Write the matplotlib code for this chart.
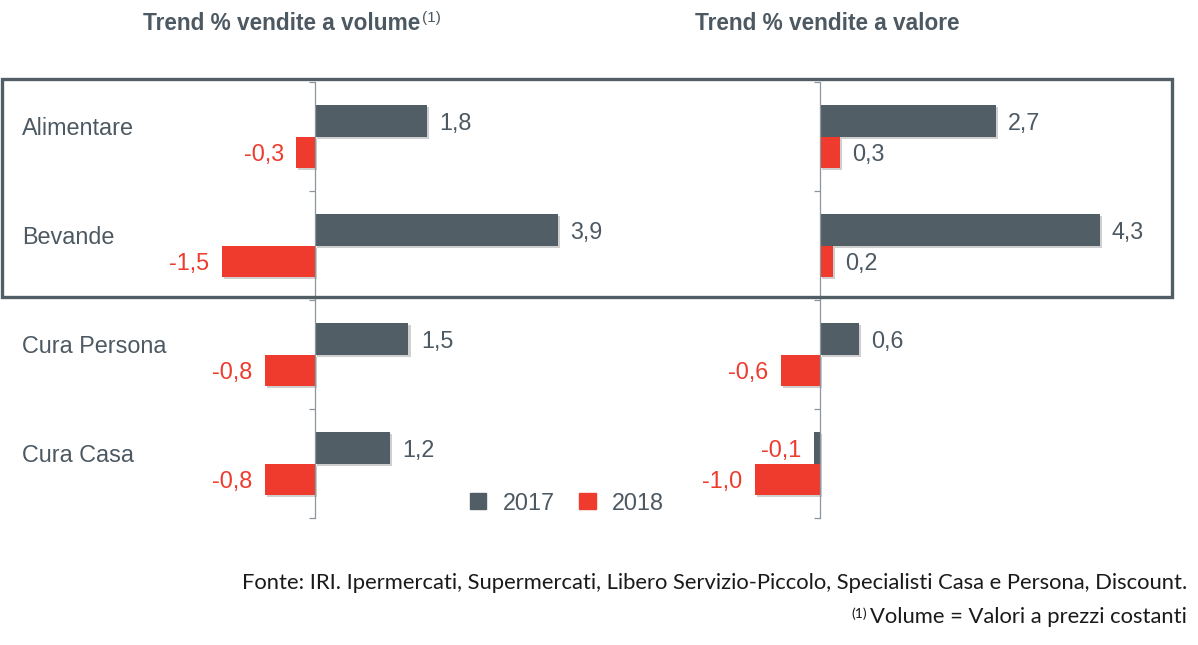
import numpy as np
from matplotlib import pyplot as plt
from matplotlib.patches import Patch, Rectangle
import matplotlib.patheffects as pe
import matplotlib.transforms as mtransforms

categories = ["Alimentare", "Bevande", "Cura Persona", "Cura Casa"]
volume2017 = [1.8, 3.9, 1.5, 1.2]
volume2018 = [-0.3, -1.5, -0.8, -0.8]
valore2017 = [2.7, 4.3, 0.6, -0.1]
valore2018 = [0.3, 0.2, -0.6, -1.0]
years = ["2017", "2018"]

titleLeft = "Trend % vendite a volume"
titleRight = "Trend % vendite a valore"
source = "Fonte: IRI. Ipermercati, Supermercati, Libero Servizio-Piccolo, Specialisti Casa e Persona, Discount."
note = "Volume = Valori a prezzi costanti"

GREY = "#525e66"
RED = "#ee3b2e"
TEXT = "#4d5962"
AXIS = "#8c969c"
FS = 16.8

plt.rcParams["font.family"] = ["Liberation Sans", "DejaVu Sans"]

W, H = 1198, 645
fig = plt.figure(figsize=(W / 100, H / 100), dpi=100)


def px(x0, x1, y0, y1):
    # pixel box -> figure fraction [left, bottom, width, height]
    return [x0 / W, 1 - y1 / H, (x1 - x0) / W, (y1 - y0) / H]


def drawPanel(ax, v17, v18, xlim):
    y = np.arange(len(categories))
    h = 0.29
    shadow = [pe.SimplePatchShadow(offset=(1.5, -1.5), shadow_rgbFace="#777777", alpha=0.35), pe.Normal()]
    b1 = ax.barh(y - h / 2, v17, height=h, color=GREY, zorder=2)
    b2 = ax.barh(y + h / 2, v18, height=h, color=RED, zorder=2)
    for bars in (b1, b2):
        for bar in bars:
            bar.set_path_effects(shadow)

    # value labels: positives right of the bar in grey, negatives left in red
    for bars, vals in ((b1, v17), (b2, v18)):
        for bar, v in zip(bars, vals):
            yc = bar.get_y() + bar.get_height() / 2
            label = f"{v:.1f}".replace(".", ",")
            if v >= 0:
                ax.annotate(label, (v, yc), xytext=(9, 0), textcoords="offset points",
                            ha="left", va="center_baseline", fontsize=FS, color=TEXT)
            else:
                ax.annotate(label, (v, yc), xytext=(-9, 0), textcoords="offset points",
                            ha="right", va="center_baseline", fontsize=FS, color=RED)

    ax.set_xlim(*xlim)
    ax.set_ylim(len(categories) - 0.5, -0.5)
    for s in ("top", "right", "bottom"):
        ax.spines[s].set_visible(False)
    ax.spines["left"].set_position(("data", 0))
    ax.spines["left"].set_color(AXIS)
    ax.spines["left"].set_linewidth(0.9)
    ax.spines["left"].set_zorder(3)
    ax.set_xticks([])
    ax.set_yticks(np.arange(len(categories) + 1) - 0.5)
    ax.set_yticklabels([])
    ax.tick_params(axis="y", direction="out", length=4, color=AXIS, width=0.9)
    ax.patch.set_visible(False)


axLeft = fig.add_axes(px(160, 640, 82, 518))
drawPanel(axLeft, volume2017, volume2018, (-(315 - 160) / 62.3, (640 - 315) / 62.3))

axRight = fig.add_axes(px(700, 1160, 82, 518))
drawPanel(axRight, valore2017, valore2018, (-(820 - 700) / 65.0, (1160 - 820) / 65.0))

# category labels: x in figure coords, y in data coords
labelTrans = mtransforms.blended_transform_factory(fig.transFigure, axLeft.transData)
for i, c in enumerate(categories):
    axLeft.text(22 / W, i - 0.1, c, transform=labelTrans, fontsize=FS, color=TEXT,
                ha="left", va="center_baseline")

# titles
tl = fig.text(282 / W, 1 - 24 / H, titleLeft, fontsize=16.3, fontweight="bold", color=TEXT, ha="center", va="center")
fig.text(827 / W, 1 - 24 / H, titleRight, fontsize=16.3, fontweight="bold", color=TEXT, ha="center", va="center")
axLeft.annotate("(1)", xy=(1, 1), xycoords=tl, xytext=(1, 1), textcoords="offset points",
                ha="left", va="top", fontsize=11, color=TEXT, annotation_clip=False)

# highlight box around first two categories
fig.add_artist(Rectangle((2 / W, 1 - 297 / H), 1170 / W, 218 / H, transform=fig.transFigure,
                         fill=False, edgecolor=GREY, linewidth=2.4, zorder=5))

# legend
handles = [Patch(color=GREY, label=years[0]), Patch(color=RED, label=years[1])]
fig.legend(handles=handles, loc="center", bbox_to_anchor=(567 / W, 1 - 503 / H), ncol=2, frameon=False,
           fontsize=FS, handlelength=0.69, handleheight=0.69, handletextpad=0.69, columnspacing=1.07,
           labelcolor=TEXT)

# footnotes
foot = ["Lato", "DejaVu Sans"]
fig.text(1187 / W, 1 - 583 / H, source, fontsize=15.8, color="#1a1a1a", ha="right", va="center", family=foot)
nt = fig.text(1187 / W, 1 - 617 / H, note, fontsize=15.8, color="#1a1a1a", ha="right", va="center", family=foot)
axLeft.annotate("(1)", xy=(0, 1), xycoords=nt, xytext=(-2, 0), textcoords="offset points",
                ha="right", va="top", fontsize=10, color="#1a1a1a", family=foot, annotation_clip=False)

fig.savefig("out.png", dpi=100)
